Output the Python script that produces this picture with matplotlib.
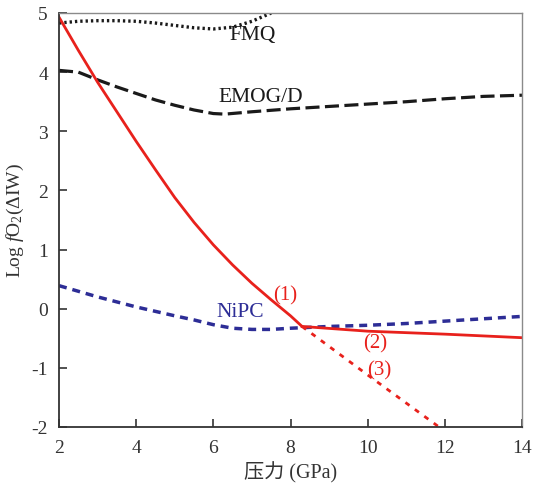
import matplotlib
matplotlib.use("Agg")
import matplotlib.pyplot as plt

# ---- data ----
fmq_x = [2, 2.5, 3, 3.5, 4, 4.5, 5, 5.5, 6, 6.5, 7, 7.25, 7.5]
fmq_y = [4.83, 4.86, 4.87, 4.87, 4.86, 4.83, 4.79, 4.75, 4.73, 4.76, 4.86, 4.93, 5.0]

emog_x = [2, 2.5, 3, 3.5, 4, 4.5, 5, 5.5, 6, 6.3, 7, 8, 9, 10, 11, 12, 13, 14]
emog_y = [4.03, 4.00, 3.87, 3.75, 3.64, 3.53, 3.44, 3.36, 3.30, 3.29, 3.33, 3.38, 3.42, 3.46, 3.50, 3.55, 3.59, 3.61]

nipc_x = [2, 3, 4, 5, 5.5, 6, 6.5, 7, 7.5, 8, 9, 10, 11, 12, 13, 14]
nipc_y = [0.39, 0.20, 0.03, -0.12, -0.19, -0.27, -0.33, -0.35, -0.35, -0.33, -0.30, -0.28, -0.25, -0.21, -0.17, -0.13]

red1_x = [2, 2.5, 3, 3.5, 4, 4.5, 5, 5.5, 6, 6.5, 7, 7.5, 8, 8.3]
red1_y = [4.93, 4.37, 3.83, 3.33, 2.83, 2.35, 1.88, 1.46, 1.08, 0.74, 0.43, 0.15, -0.12, -0.30]

red2_x = [8.3, 10, 12, 14]
red2_y = [-0.30, -0.38, -0.43, -0.49]

red3_x = [8.3, 10, 11.85]
red3_y = [-0.30, -1.12, -2.0]

xticks = [2, 4, 6, 8, 10, 12, 14]
yticks = [-2, -1, 0, 1, 2, 3, 4, 5]

plt.rcParams['font.family'] = ['Liberation Serif', 'Noto Sans CJK SC']
plt.rcParams['mathtext.fontset'] = 'custom'
plt.rcParams['mathtext.rm'] = 'Liberation Serif'
plt.rcParams['mathtext.it'] = 'Liberation Serif:italic'

fig = plt.figure(figsize=(5.34, 4.85), dpi=100)
ax = fig.add_axes([59/534, 1-428/485, (522-59)/534, (428-14)/485])

red = '#e8211c'
blue = '#2d2d96'
black = '#1a1a1a'

ax.plot(fmq_x, fmq_y, color=black, lw=2.4, linestyle=(0, (0.7, 0.9)), dash_capstyle='butt')
ax.plot(emog_x, emog_y, color=black, lw=2.3, linestyle=(0, (4.4, 1.7)))
ax.plot(nipc_x, nipc_y, color=blue, lw=2.5, linestyle=(0, (2.3, 1.7)))
ax.plot(red1_x, red1_y, color=red, lw=2.0)
ax.plot(red2_x, red2_y, color=red, lw=2.0)
ax.plot(red3_x, red3_y, color=red, lw=2.0, linestyle=(0, (1.8, 2.4)))

ax.text(7.03, 4.63, 'FMQ', fontsize=15.5, color=black, ha='center', va='center')
ax.text(7.23, 3.58, 'EMOG/D', fontsize=15.5, color=black, ha='center', va='center')
ax.text(6.69, -0.04, 'NiPC', fontsize=15.5, color=blue, ha='center', va='center')
ax.text(7.85, 0.23, '(1)', fontsize=15, color=red, ha='center', va='center')
ax.text(10.2, -0.57, '(2)', fontsize=15, color=red, ha='center', va='center')
ax.text(10.3, -1.04, '(3)', fontsize=15, color=red, ha='center', va='center')

ax.set_xlim(2, 14)
ax.set_ylim(-2, 5)
ax.set_xticks(xticks)
ax.set_yticks(yticks)
ax.set_xticklabels([str(v) for v in xticks])
ax.set_yticklabels([str(v) for v in yticks])
ax.tick_params(direction='in', length=6, width=1.2, labelsize=14, colors='#333333', pad=9)
ax.tick_params(axis='y', pad=8)

for s in ['left', 'bottom']:
    ax.spines[s].set_color('#333333')
    ax.spines[s].set_linewidth(1.3)
for s in ['top', 'right']:
    ax.spines[s].set_color('#8a8a8a')
    ax.spines[s].set_linewidth(1.0)

ax.set_xlabel('压力 (GPa)', fontsize=14.5, color='#333333', labelpad=3)
ax.set_ylabel('Log $f$O$_2$($\\Delta$IW)', fontsize=14, color='#333333', labelpad=4)

fig.savefig('out.png', dpi=100)
